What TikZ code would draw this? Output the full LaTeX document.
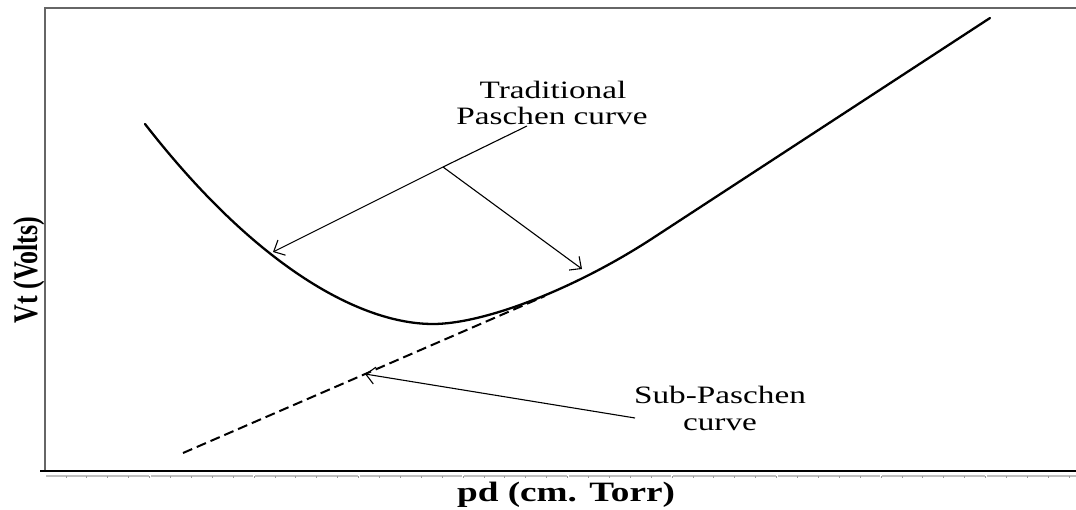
\documentclass[tikz,border=0pt]{standalone}
\usepackage{fontspec}
\setmainfont{Liberation Serif}
\usetikzlibrary{arrows.meta}
\begin{document}
\begin{tikzpicture}[x=1pt,y=-1pt,
  frameline/.style={draw=black!60,line width=1.2pt},
  curveline/.style={draw=black,line width=2.3pt,line cap=round},
  subline/.style={draw=black,line width=2pt,dash pattern=on 10pt off 5pt},
  pointer/.style={draw=black,line width=1.1pt,-{Straight Barb[length=9pt,width=17pt,line width=1.1pt]}},
  lbl/.style={inner sep=0pt,font=\fontsize{25}{26}\selectfont,align=center},
]
\useasboundingbox (0,0) rectangle (1076,510);
% frame
\draw[frameline] (45,470) -- (45,8) -- (1076,8);
% tick band
\foreach \k in {0,...,9}{
  \draw[black!25,line width=1.6pt] ({45+104.5*\k+1},476) -- ({min(45+104.5*(\k+1)-1,1076)},476);
}
\foreach \k in {1,...,49}{
  \draw[black!40,line width=0.8pt] ({45+20.9*\k},476) -- ({45+20.9*\k},478);
}
\draw[black,line width=2pt] (40,470.5) -- (1076,470.5);
% Paschen curve
\coordinate (cA) at (145,124);
\coordinate (cMin) at (433,324);
\coordinate (cB) at (653,238);
\coordinate (cEnd) at (990,18);
\draw[curveline] (cA) .. controls (257,268) and (361,324) .. (cMin)
  .. controls (483,324) and (573,290.2) .. (cB) -- (cEnd);
% Sub-Paschen tangent
\coordinate (subS) at (183,453);
\coordinate (subE) at (545,296);
\draw[subline] (subS) -- (subE);
% labels
\node[lbl,anchor=base] (trad) at (553,99) {\scalebox{1.33}[1]{Traditional}};
\node[lbl,anchor=base] (trad2) at (552,125) {\scalebox{1.33}[1]{Paschen curve}};
\node[lbl,anchor=base] (sub) at (720,403) {\scalebox{1.33}[1]{Sub-Paschen}};
\node[lbl,anchor=base] (sub2) at (720,430) {\scalebox{1.33}[1]{curve}};
\node[inner sep=0pt,anchor=base,font=\fontsize{28}{30}\selectfont\bfseries] (xlab) at (566,501) {\scalebox{1.33}[1]{pd (cm. Torr)}};
\node[inner sep=0pt,anchor=base,rotate=90,font=\fontsize{26}{28}\selectfont\bfseries] (ylab) at (37,270) {\scalebox{1}[1.33]{Vt (Volts)}};
% pointers
\coordinate (tstart) at (527,126);
\coordinate (branch) at (443,167);
\coordinate (tipL) at (273,252);
\coordinate (tipR) at (582,269);
\draw[line width=1.1pt] (tstart) -- (branch);
\draw[pointer] (branch) -- (tipL);
\draw[pointer] (branch) -- (tipR);
\coordinate (sstart) at (635,418);
\coordinate (tipS) at (365,374);
\draw[pointer] (sstart) -- (tipS);
\end{tikzpicture}
\end{document}
